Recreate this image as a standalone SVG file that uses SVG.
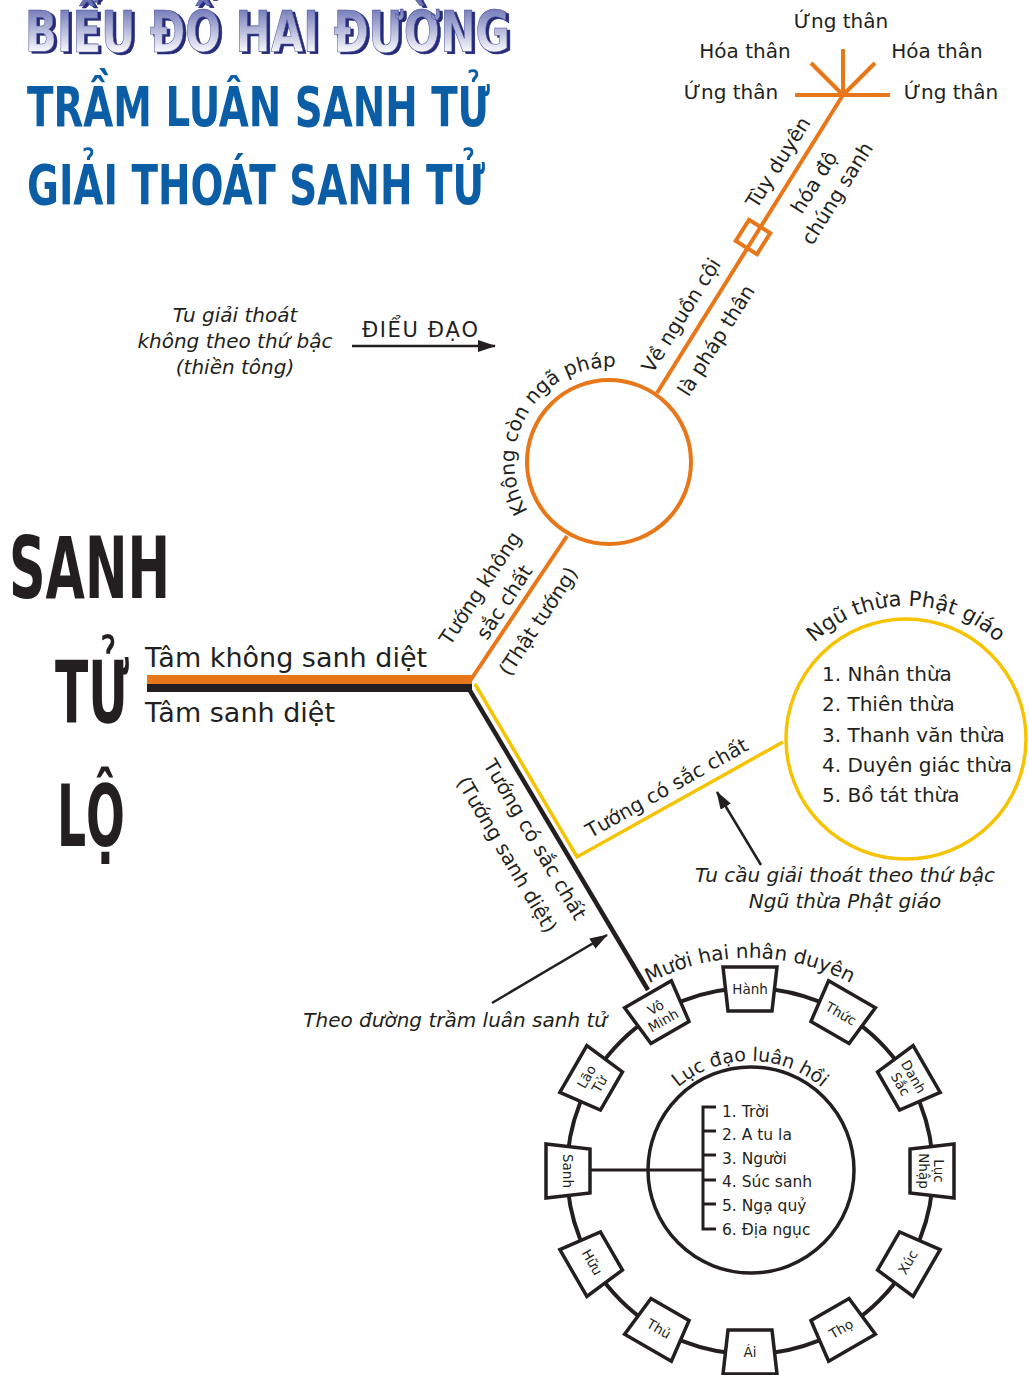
<svg xmlns="http://www.w3.org/2000/svg" width="1029" height="1375" viewBox="0 0 1029 1375">
<defs>
<style>
.t{font-family:'DejaVu Sans','Liberation Sans',sans-serif;fill:#231f20;font-size:20px}
.it{font-style:italic}
.big{font-family:'DejaVu Sans Condensed','DejaVu Sans',sans-serif;font-weight:bold}
.or{stroke:#e8771a;fill:none;stroke-width:4}
.ye{stroke:#f5c300;fill:none;stroke-width:3.5}
.bk{stroke:#231f20;fill:none}
.box{fill:#fff;stroke:#231f20;stroke-width:3.5}
.bt{font-size:13.5px}
.lst{font-size:15.5px}
</style>
<linearGradient id="tg" x1="0" y1="6" x2="0" y2="54" gradientUnits="userSpaceOnUse">
<stop offset="0" stop-color="#6b73b5"/><stop offset="1" stop-color="#ffffff"/>
</linearGradient>
<filter id="sh" x="-5%" y="-20%" width="110%" height="150%">
<feOffset in="SourceAlpha" dx="3" dy="2" result="o"/>
<feFlood flood-color="#252c7a"/>
<feComposite in2="o" operator="in" result="s"/>
<feMerge><feMergeNode in="s"/><feMergeNode in="SourceGraphic"/></feMerge>
</filter>
<marker id="ah" viewBox="0 0 18 12" refX="17" refY="6" markerWidth="18" markerHeight="12" markerUnits="userSpaceOnUse" orient="auto">
<path d="M0,0 L18,6 L0,12 z" fill="#231f20"/>
</marker>
<path id="arcK" d="M561.5,544.3 A95,95 0 1 1 660.7,382.3"/>
<path id="arcN" d="M781,693.5 A133,133 0 0 1 1031,693.5"/>
<path id="arcM" d="M565.5,1064.5 A213,213 0 0 1 934.5,1064.5"/>
<path id="arcL" d="M646.6,1133.4 A110,110 0 0 1 853.4,1133.4"/>
</defs>
<rect width="1029" height="1375" fill="#fff"/>

<g id="title">
<text x="25" y="52" class="big" font-size="57" textLength="485" lengthAdjust="spacingAndGlyphs" fill="url(#tg)" stroke="#4a5198" stroke-width="0.6" filter="url(#sh)">BIỂU ĐỒ HAI ĐƯỜNG</text>
<text x="27" y="126" class="big" font-size="55" textLength="463" lengthAdjust="spacingAndGlyphs" fill="#0b5ea6">TRẦM LUÂN SANH TỬ</text>
<text x="27" y="204" class="big" font-size="55" textLength="458" lengthAdjust="spacingAndGlyphs" fill="#0b5ea6">GIẢI THOÁT SANH TỬ</text>
</g>

<g id="sanh-tu-lo" fill="#231f20">
<text class="big" font-size="86" transform="translate(9,598) scale(0.657,1)">SANH</text>
<text class="big" font-size="86" transform="translate(55,722) scale(0.63,1)">TỬ</text>
<text class="big" font-size="86" transform="translate(57,846) scale(0.59,1)">LỘ</text>
</g>

<g id="connectors">
<rect x="147" y="675" width="325" height="9" fill="#e8771a"/>
<rect x="147" y="684" width="325" height="8" fill="#231f20"/>
<line class="or" x1="470" y1="681" x2="567" y2="536"/>
<line class="or" x1="657" y1="393" x2="843" y2="95"/>
<g class="or">
<line x1="795" y1="95" x2="890" y2="95"/>
<line x1="843" y1="95" x2="843" y2="49"/>
<line x1="843" y1="95" x2="811" y2="63"/>
<line x1="843" y1="95" x2="875" y2="63"/>
</g>
<polyline class="ye" stroke-width="3" points="475,684 577,857 783,742"/>
<line class="bk" stroke-width="4.5" x1="469" y1="689" x2="648" y2="990"/>
<line class="bk" stroke-width="2.5" x1="352" y1="346" x2="495" y2="346" marker-end="url(#ah)"/>
<line class="bk" stroke-width="2.5" x1="761" y1="865" x2="717" y2="792" marker-end="url(#ah)"/>
<line class="bk" stroke-width="2.5" x1="492" y1="1003" x2="607" y2="935" marker-end="url(#ah)"/>
<line class="bk" stroke-width="3" x1="591" y1="1170" x2="703" y2="1170"/>
<path class="bk" stroke-width="3" d="M716,1107 H703 V1229 H716 M703,1131 H716 M703,1155 H716 M703,1180 H716 M703,1204 H716"/>
</g>

<g id="labels" class="t">
<text x="145" y="667" font-size="27">Tâm không sanh diệt</text>
<text x="145" y="722" font-size="27">Tâm sanh diệt</text>
<text x="841" y="28" text-anchor="middle">Ứng thân</text>
<text x="745" y="58" text-anchor="middle">Hóa thân</text>
<text x="937" y="58" text-anchor="middle">Hóa thân</text>
<text x="731" y="99" text-anchor="middle">Ứng thân</text>
<text x="951" y="99" text-anchor="middle">Ứng thân</text>
<g text-anchor="middle">
<text transform="translate(486,592) rotate(-56.6)">Tướng không</text>
<text transform="translate(510,606) rotate(-56.6)">sắc chất</text>
<text transform="translate(544,625) rotate(-56.6)">(Thật tướng)</text>
<text transform="translate(687,319) rotate(-58)">Về nguồn cội</text>
<text transform="translate(722,344) rotate(-58)">là pháp thân</text>
<text transform="translate(784,166) rotate(-58)">Tùy duyên</text>
<text transform="translate(820,186) rotate(-58)">hóa độ</text>
<text transform="translate(843,197) rotate(-58)">chúng sanh</text>
<text transform="translate(529,843) rotate(59.5)">Tướng có sắc chất</text>
<text transform="translate(501,858) rotate(59.5)">(Tướng sanh diệt)</text>
<text transform="translate(670,794) rotate(-29.3)">Tướng có sắc chất</text>
</g>
<text><textPath href="#arcK" startOffset="50%" text-anchor="middle">Không còn ngã pháp</textPath></text>
<text class="it" text-anchor="middle"><tspan x="235" y="322">Tu giải thoát</tspan><tspan x="235" y="348">không theo thứ bậc</tspan><tspan x="235" y="374">(thiền tông)</tspan></text>
<text x="362" y="337" font-size="21" textLength="116">ĐIỂU ĐẠO</text>
<text class="it" text-anchor="middle"><tspan x="845" y="882">Tu cầu giải thoát theo thứ bậc</tspan><tspan x="845" y="908">Ngũ thừa Phật giáo</tspan></text>
<text class="it" x="607" y="1027" text-anchor="end">Theo đường trầm luân sanh tử</text>
</g>

<g id="node-phap-than">
<circle class="or" cx="609" cy="462" r="82" fill="#fff"/>
</g>
<g id="node-square">
<rect class="or" x="-12.5" y="-12.5" width="25" height="25" fill="#fff" transform="translate(753,237) rotate(32)"/>
</g>

<g id="node-ngu-thua">
<circle class="ye" cx="906" cy="739" r="120"/>
<g class="t">
<text><textPath href="#arcN" startOffset="50%" text-anchor="middle" font-size="21">Ngũ thừa Phật giáo</textPath></text>
<text x="822" y="681">1. Nhân thừa</text>
<text x="822" y="711">2. Thiên thừa</text>
<text x="822" y="742">3. Thanh văn thừa</text>
<text x="822" y="772">4. Duyên giác thừa</text>
<text x="822" y="802">5. Bồ tát thừa</text>
</g>
</g>

<g id="wheel">
<circle class="bk" stroke-width="4" cx="750" cy="1171" r="183"/>
<circle class="bk" stroke-width="3.5" cx="751" cy="1170" r="103"/>
<g class="t">
<text><textPath href="#arcM" startOffset="50%" text-anchor="middle">Mười hai nhân duyên</textPath></text>
<text font-size="19"><textPath href="#arcL" startOffset="50%" text-anchor="middle">Lục đạo luân hồi</textPath></text>
<g class="lst">
<text x="722" y="1117">1. Trời</text>
<text x="722" y="1140">2. A tu la</text>
<text x="722" y="1164">3. Người</text>
<text x="722" y="1187">4. Súc sanh</text>
<text x="722" y="1211">5. Ngạ quỷ</text>
<text x="722" y="1235">6. Địa ngục</text>
</g>
</g>
</g>

<g id="box-hanh"><polygon class="box" points="-27,-22 27,-22 22,22 -22,22" transform="translate(750,989) rotate(0)"/><text class="t bt" text-anchor="middle" transform="translate(750,989) rotate(0)" y="5">Hành</text></g>
<g id="box-thuc"><polygon class="box" points="-27,-22 27,-22 22,22 -22,22" transform="translate(841,1013.4) rotate(30)"/><text class="t bt" text-anchor="middle" transform="translate(841,1013.4) rotate(30)" y="5">Thức</text></g>
<g id="box-danhsac"><polygon class="box" points="-27,-22 27,-22 22,22 -22,22" transform="translate(907.6,1080) rotate(60)"/><text class="t bt" text-anchor="middle" transform="translate(907.6,1080) rotate(60)"><tspan x="0" y="-2">Danh</tspan><tspan x="0" y="13">Sắc</tspan></text></g>
<g id="box-lucnhap"><polygon class="box" points="-27,-22 27,-22 22,22 -22,22" transform="translate(932,1171) rotate(90)"/><text class="t bt" text-anchor="middle" transform="translate(932,1171) rotate(90)"><tspan x="0" y="-2">Lục</tspan><tspan x="0" y="13">Nhập</tspan></text></g>
<g id="box-xuc"><polygon class="box" points="-27,-22 27,-22 22,22 -22,22" transform="translate(907.6,1262) rotate(120)"/><text class="t bt" text-anchor="middle" transform="translate(907.6,1262) rotate(-60)" y="5">Xúc</text></g>
<g id="box-tho"><polygon class="box" points="-27,-22 27,-22 22,22 -22,22" transform="translate(841,1328.6) rotate(150)"/><text class="t bt" text-anchor="middle" transform="translate(841,1328.6) rotate(-30)" y="5">Thọ</text></g>
<g id="box-ai"><polygon class="box" points="-27,-22 27,-22 22,22 -22,22" transform="translate(750,1352) rotate(180)"/><text class="t bt" text-anchor="middle" transform="translate(750,1352) rotate(0)" y="5">Ái</text></g>
<g id="box-thu"><polygon class="box" points="-27,-22 27,-22 22,22 -22,22" transform="translate(659,1328.6) rotate(210)"/><text class="t bt" text-anchor="middle" transform="translate(659,1328.6) rotate(30)" y="5">Thủ</text></g>
<g id="box-huu"><polygon class="box" points="-27,-22 27,-22 22,22 -22,22" transform="translate(592.4,1262) rotate(240)"/><text class="t bt" text-anchor="middle" transform="translate(592.4,1262) rotate(60)" y="5">Hữu</text></g>
<g id="box-sanh"><polygon class="box" points="-27,-22 27,-22 22,22 -22,22" transform="translate(568,1171) rotate(270)"/><text class="t bt" text-anchor="middle" transform="translate(568,1171) rotate(90)" y="5">Sanh</text></g>
<g id="box-laotu"><polygon class="box" points="-27,-22 27,-22 22,22 -22,22" transform="translate(592.4,1080) rotate(300)"/><text class="t bt" text-anchor="middle" transform="translate(592.4,1080) rotate(-60)"><tspan x="0" y="-2">Lão</tspan><tspan x="0" y="13">Tử</tspan></text></g>
<g id="box-vominh"><polygon class="box" points="-27,-22 27,-22 22,22 -22,22" transform="translate(659,1013.4) rotate(330)"/><text class="t bt" text-anchor="middle" transform="translate(659,1013.4) rotate(-30)"><tspan x="0" y="-2">Vô</tspan><tspan x="0" y="13">Minh</tspan></text></g>
</svg>
